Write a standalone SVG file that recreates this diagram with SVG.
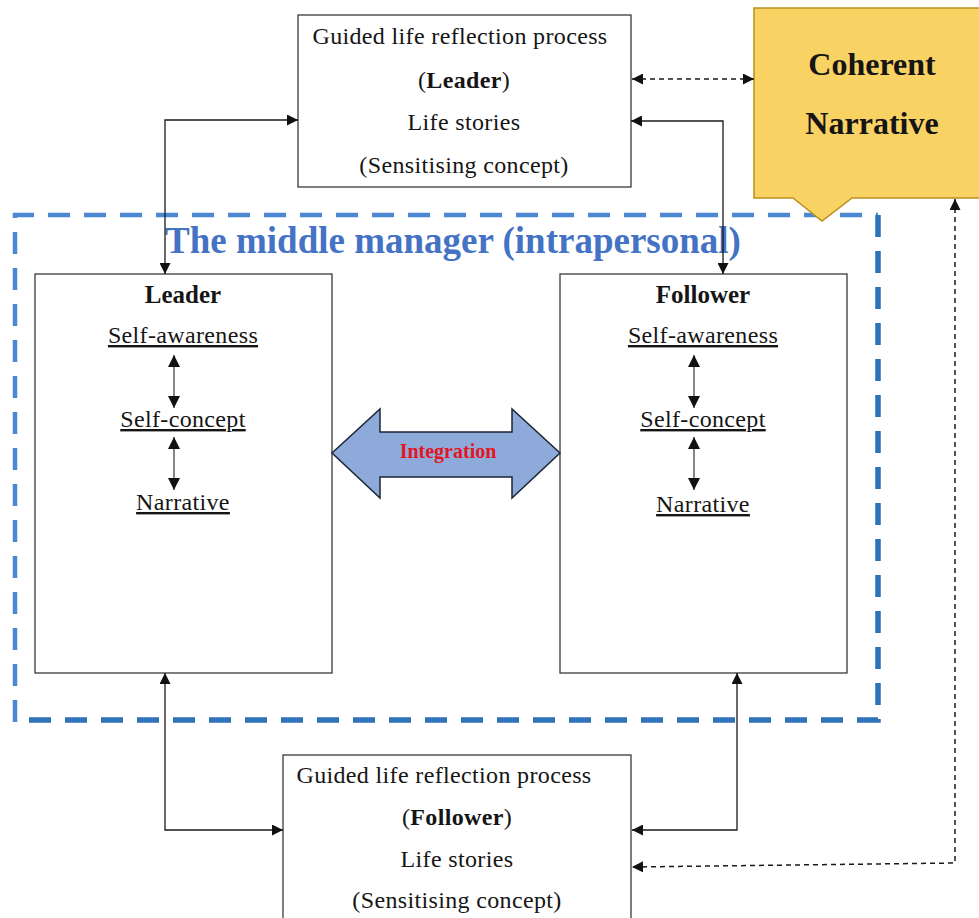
<svg xmlns="http://www.w3.org/2000/svg" width="979" height="918" viewBox="0 0 979 918">
  <style>
    .box { fill: #ffffff; stroke: #3a3a3a; stroke-width: 1.3; }
    .t { font-family: "Liberation Serif", "Times New Roman", serif; fill: #151515; text-anchor: middle; }
    .body { font-size: 24px; letter-spacing: 0.35px; }
    .head { font-size: 25px; font-weight: bold; }
    .u { font-size: 24px; letter-spacing: 0.35px; text-decoration: underline; }
    .line { fill: none; stroke: #1a1a1a; stroke-width: 1.3; }
    .inner { fill: none; stroke: #555555; stroke-width: 1.4; }
    .dash { fill: none; stroke: #1a1a1a; stroke-width: 1.5; stroke-dasharray: 5 4; }
  </style>
  <defs>
    <marker id="ah" viewBox="0 0 10 10" refX="10" refY="5" markerWidth="11" markerHeight="11" markerUnits="userSpaceOnUse" orient="auto-start-reverse">
      <path d="M0,0 L10,5 L0,10 Z" fill="#111"/>
    </marker>
    <marker id="ahs" viewBox="0 0 10 10" refX="10" refY="5" markerWidth="12" markerHeight="12" markerUnits="userSpaceOnUse" orient="auto-start-reverse">
      <path d="M0,0 L10,5 L0,10 Z" fill="#111"/>
    </marker>
  </defs>

  <rect width="979" height="918" fill="#ffffff"/>

  <!-- intrapersonal frame -->
  <g id="frame">
    <path d="M15,722 L15,215 L878,215" fill="none" stroke="#4a88d4" stroke-width="4.5" stroke-dasharray="22 14"/>
    <path d="M878,215 L878,720 L15,720" fill="none" stroke="#2e72b8" stroke-width="5.5" stroke-dasharray="22 14"/>
    <text class="t" x="453" y="253" font-size="37" font-weight="bold" style="fill:#4472c4">The middle manager (intrapersonal)</text>
  </g>

  <!-- guided reflection: leader -->
  <g id="reflection-leader">
    <rect class="box" x="298" y="15" width="333" height="172"/>
    <text class="t body" x="460" y="44">Guided life reflection process</text>
    <text class="t body" x="464" y="88">(<tspan font-weight="bold">Leader</tspan>)</text>
    <text class="t body" x="464" y="130">Life stories</text>
    <text class="t body" x="464" y="173">(Sensitising concept)</text>
  </g>

  <!-- coherent narrative callout -->
  <g id="coherent-narrative">
    <path d="M754,8 L985,8 L985,198 L852,198 L822,221 L793,198 L754,198 Z" fill="#f9d264" stroke="#b8901c" stroke-width="1.5"/>
    <text class="t" x="872" y="75" font-size="32" font-weight="bold">Coherent</text>
    <text class="t" x="872" y="134" font-size="32" font-weight="bold">Narrative</text>
  </g>

  <!-- leader -->
  <g id="leader">
    <rect class="box" x="35" y="274" width="297" height="399"/>
    <text class="t head" x="183" y="303">Leader</text>
    <text class="t u" x="183" y="343">Self-awareness</text>
    <text class="t u" x="183" y="427">Self-concept</text>
    <text class="t u" x="183" y="510">Narrative</text>
  </g>

  <!-- follower -->
  <g id="follower">
    <rect class="box" x="560" y="274" width="287" height="399"/>
    <text class="t head" x="703" y="303">Follower</text>
    <text class="t u" x="703" y="343">Self-awareness</text>
    <text class="t u" x="703" y="427">Self-concept</text>
    <text class="t u" x="703" y="512">Narrative</text>
  </g>

  <!-- integration -->
  <g id="integration">
    <path d="M332,453 L380,409 L380,432 L512,432 L512,409 L560,453 L512,498 L512,477 L380,477 L380,498 Z" fill="#8eaadb" stroke="#1c2633" stroke-width="1.5" stroke-linejoin="miter"/>
    <text class="t" x="448" y="458" font-size="20" font-weight="bold" style="fill:#e3161f">Integration</text>
  </g>

  <!-- guided reflection: follower -->
  <g id="reflection-follower">
    <rect class="box" x="283" y="755" width="348" height="170"/>
    <text class="t body" x="444" y="783">Guided life reflection process</text>
    <text class="t body" x="457" y="825">(<tspan font-weight="bold">Follower</tspan>)</text>
    <text class="t body" x="457" y="867">Life stories</text>
    <text class="t body" x="457" y="908">(Sensitising concept)</text>
  </g>

  <!-- connectors -->
  <g id="connectors">
    <path class="line" d="M298,120 L165,120 L165,274" marker-start="url(#ah)" marker-end="url(#ah)"/>
    <path class="line" d="M631,121 L723,121 L723,274" marker-start="url(#ah)" marker-end="url(#ah)"/>
    <path class="line" d="M165,673 L165,830 L283,830" marker-start="url(#ah)" marker-end="url(#ah)"/>
    <path class="line" d="M737,673 L737,830 L632,830" marker-start="url(#ah)" marker-end="url(#ah)"/>
    <path class="dash" d="M632,79 L754,79" marker-start="url(#ah)" marker-end="url(#ah)"/>
    <path class="dash" d="M955,199 L955,863 L632,867" marker-start="url(#ah)" marker-end="url(#ah)"/>
    <path class="inner" d="M174,355 L174,408" marker-start="url(#ahs)" marker-end="url(#ahs)"/>
    <path class="inner" d="M174,437 L174,490" marker-start="url(#ahs)" marker-end="url(#ahs)"/>
    <path class="inner" d="M694,355 L694,408" marker-start="url(#ahs)" marker-end="url(#ahs)"/>
    <path class="inner" d="M694,437 L694,490" marker-start="url(#ahs)" marker-end="url(#ahs)"/>
  </g>
</svg>
